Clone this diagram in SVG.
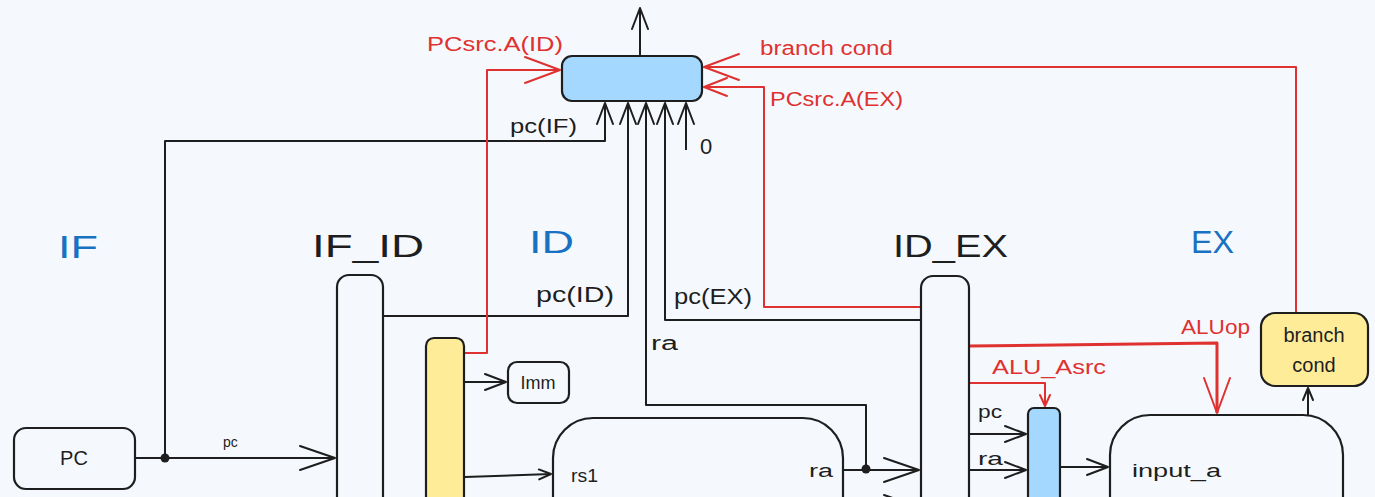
<svg xmlns="http://www.w3.org/2000/svg" width="1375" height="497" viewBox="0 0 1375 497">
<style>
.bg{fill:#f5f9fd}
.box{fill:none;stroke:#1e1e1e;stroke-width:2.2}
.blue{fill:#a5d8ff;stroke:#1e1e1e;stroke-width:2.2}
.yel{fill:#ffec99;stroke:#1e1e1e;stroke-width:2.2}
.w{fill:#1e1e1e;stroke:none}
.k{fill:none;stroke:#1e1e1e;stroke-width:2;stroke-linejoin:round}
.r{fill:none;stroke:#e03131;stroke-width:2;stroke-linejoin:round}
text{font-family:"Liberation Sans",Arial,sans-serif}
.t{fill:#1e1e1e;font-size:20px}
.st{fill:#1971c2;font-size:32px}
.sk{fill:#1e1e1e;font-size:32px}
.rt{fill:#e03131;font-size:20px}
.c{text-anchor:middle}
</style>
<defs>
<marker id="kL" viewBox="-40 -16 44 32" refX="0" refY="0" markerWidth="44" markerHeight="32" orient="auto" markerUnits="userSpaceOnUse"><path d="M-35,-12 L0,0 L-35,12" fill="none" stroke="#1e1e1e" stroke-width="2" stroke-linecap="round" stroke-linejoin="round"/></marker>
<marker id="kM" viewBox="-26 -12 30 24" refX="0" refY="0" markerWidth="30" markerHeight="24" orient="auto" markerUnits="userSpaceOnUse"><path d="M-21,-8 L0,0 L-21,8" fill="none" stroke="#1e1e1e" stroke-width="2" stroke-linecap="round" stroke-linejoin="round"/></marker>
<marker id="kS" viewBox="-16 -8 20 16" refX="0" refY="0" markerWidth="20" markerHeight="16" orient="auto" markerUnits="userSpaceOnUse"><path d="M-12,-5 L0,0 L-12,5" fill="none" stroke="#1e1e1e" stroke-width="2" stroke-linecap="round" stroke-linejoin="round"/></marker>
<marker id="rL" viewBox="-40 -16 44 32" refX="0" refY="0" markerWidth="44" markerHeight="32" orient="auto" markerUnits="userSpaceOnUse"><path d="M-35,-13 L0,0 L-35,13" fill="none" stroke="#e03131" stroke-width="2" stroke-linecap="round" stroke-linejoin="round"/></marker>
<marker id="rM" viewBox="-26 -12 30 24" refX="0" refY="0" markerWidth="30" markerHeight="24" orient="auto" markerUnits="userSpaceOnUse"><path d="M-23,-9 L0,0 L-23,9" fill="none" stroke="#e03131" stroke-width="2" stroke-linecap="round" stroke-linejoin="round"/></marker>
<marker id="rS" viewBox="-16 -8 20 16" refX="0" refY="0" markerWidth="20" markerHeight="16" orient="auto" markerUnits="userSpaceOnUse"><path d="M-11,-5 L0,0 L-11,5" fill="none" stroke="#e03131" stroke-width="2" stroke-linecap="round" stroke-linejoin="round"/></marker>
</defs>
<rect class="bg" x="0" y="0" width="1375" height="497"/>

<g id="stage-labels">
<text class="st" x="58" y="258" textLength="40" lengthAdjust="spacingAndGlyphs">IF</text>
<text class="sk" x="312" y="257" textLength="112" lengthAdjust="spacingAndGlyphs">IF_ID</text>
<text class="st" x="529" y="253" textLength="45" lengthAdjust="spacingAndGlyphs">ID</text>
<text class="sk" x="893" y="257" textLength="115" lengthAdjust="spacingAndGlyphs">ID_EX</text>
<text class="st" x="1191" y="253" textLength="43" lengthAdjust="spacingAndGlyphs">EX</text>
</g>

<g id="connectors">
<path class="k" d="M135,458 H335" marker-end="url(#kL)"/>
<path class="k" d="M165,458 V141 H605 V103" marker-end="url(#kM)"/>
<path class="k" d="M383,316 H628 V103" marker-end="url(#kM)"/>
<path class="k" d="M866,469 V405 H646 V103" marker-end="url(#kM)"/>
<path class="k" d="M921,320 H665 V103" marker-end="url(#kM)"/>
<path class="k" d="M686,150 V103" marker-end="url(#kM)"/>
<path class="k" d="M640,55 V8" marker-end="url(#kM)"/>
<path class="k" d="M464,382 H506" marker-end="url(#kM)"/>
<path class="k" d="M465,477 L551,474" marker-end="url(#kS)"/>
<path class="k" d="M843,470 H919" marker-end="url(#kL)"/>
<path class="k" d="M843,507 H919" marker-end="url(#kL)"/>
<path class="k" d="M969,434 H1026" marker-end="url(#kM)"/>
<path class="k" d="M969,470 H1026" marker-end="url(#kM)"/>
<path class="k" d="M1060,467 H1108" marker-end="url(#kM)"/>
<path class="k" d="M1308,415 V388" marker-end="url(#kS)"/>
<circle class="w" cx="165" cy="458" r="4.5"/>
<circle class="w" cx="866" cy="469" r="4.5"/>
<path class="r" d="M464,353 H487 V70 H560" marker-end="url(#rL)"/>
<path class="r" d="M1296,313 V67 H704" marker-end="url(#rL)"/>
<path class="r" d="M921,307 H764 V87 H704" marker-end="url(#rM)"/>
<path class="r" style="stroke-width:3" d="M969,346 L1217,343 V413" marker-end="url(#rL)"/>
<path class="r" d="M969,383 H1045 V406" marker-end="url(#rS)"/>
<text class="rt" x="427" y="51" textLength="136" lengthAdjust="spacingAndGlyphs">PCsrc.A(ID)</text>
<text class="rt" x="760" y="55" textLength="133" lengthAdjust="spacingAndGlyphs">branch cond</text>
<text class="rt" x="770" y="106" textLength="133" lengthAdjust="spacingAndGlyphs">PCsrc.A(EX)</text>
<text class="rt" x="1181" y="334" textLength="69" lengthAdjust="spacingAndGlyphs">ALUop</text>
<text class="rt" x="992" y="374" textLength="114" lengthAdjust="spacingAndGlyphs">ALU_Asrc</text>
<text class="t" x="510" y="133" textLength="67" lengthAdjust="spacingAndGlyphs">pc(IF)</text>
<text class="t" x="700" y="154" style="font-size:22px">0</text>
<text class="t" x="536" y="302" style="font-size:22px" textLength="78" lengthAdjust="spacingAndGlyphs">pc(ID)</text>
<text class="t" x="674" y="304" style="font-size:22px" textLength="78" lengthAdjust="spacingAndGlyphs">pc(EX)</text>
<text class="t" x="651" y="350" textLength="27" lengthAdjust="spacingAndGlyphs">ra</text>
<text class="t" x="223" y="447" style="font-size:14px">pc</text>
<text class="t" x="978" y="418" style="font-size:18px" textLength="24" lengthAdjust="spacingAndGlyphs">pc</text>
<text class="t" x="978" y="465" style="font-size:18px" textLength="25" lengthAdjust="spacingAndGlyphs">ra</text>
</g>

<g id="pc">
<rect class="box" x="14" y="428" width="121" height="61" rx="12"/>
<text class="t c" x="74" y="465">PC</text>
</g>
<g id="if-id">
<rect class="box" x="337" y="275" width="46" height="270" rx="12"/>
</g>
<g id="decoder">
<rect class="yel" x="426" y="338" width="38" height="200" rx="8"/>
</g>
<g id="imm">
<rect class="box" x="508" y="362" width="61" height="41" rx="9"/>
<text class="t c" x="538" y="389" style="font-size:18px">Imm</text>
</g>
<g id="regfile">
<rect class="box" x="553" y="418" width="290" height="150" rx="40"/>
<text class="t" x="571" y="482" style="font-size:18px" textLength="27" lengthAdjust="spacingAndGlyphs">rs1</text>
<text class="t" x="809" y="477" style="font-size:18px" textLength="24" lengthAdjust="spacingAndGlyphs">ra</text>
</g>
<g id="pc-mux">
<rect class="blue" x="562" y="56" width="140" height="45" rx="10"/>
</g>
<g id="id-ex">
<rect class="box" x="921" y="276" width="48" height="270" rx="12"/>
</g>
<g id="alu-a-mux">
<rect class="blue" x="1028" y="408" width="32" height="150" rx="6"/>
</g>
<g id="alu">
<rect class="box" x="1110" y="415" width="233" height="150" rx="40"/>
<text class="t" x="1132" y="477" style="font-size:18px" textLength="89" lengthAdjust="spacingAndGlyphs">input_a</text>
</g>
<g id="branch-cond">
<rect class="yel" x="1261" y="313" width="107" height="73" rx="14"/>
<text class="t c" x="1314" y="342">branch</text>
<text class="t c" x="1314" y="372">cond</text>
</g>
</svg>
